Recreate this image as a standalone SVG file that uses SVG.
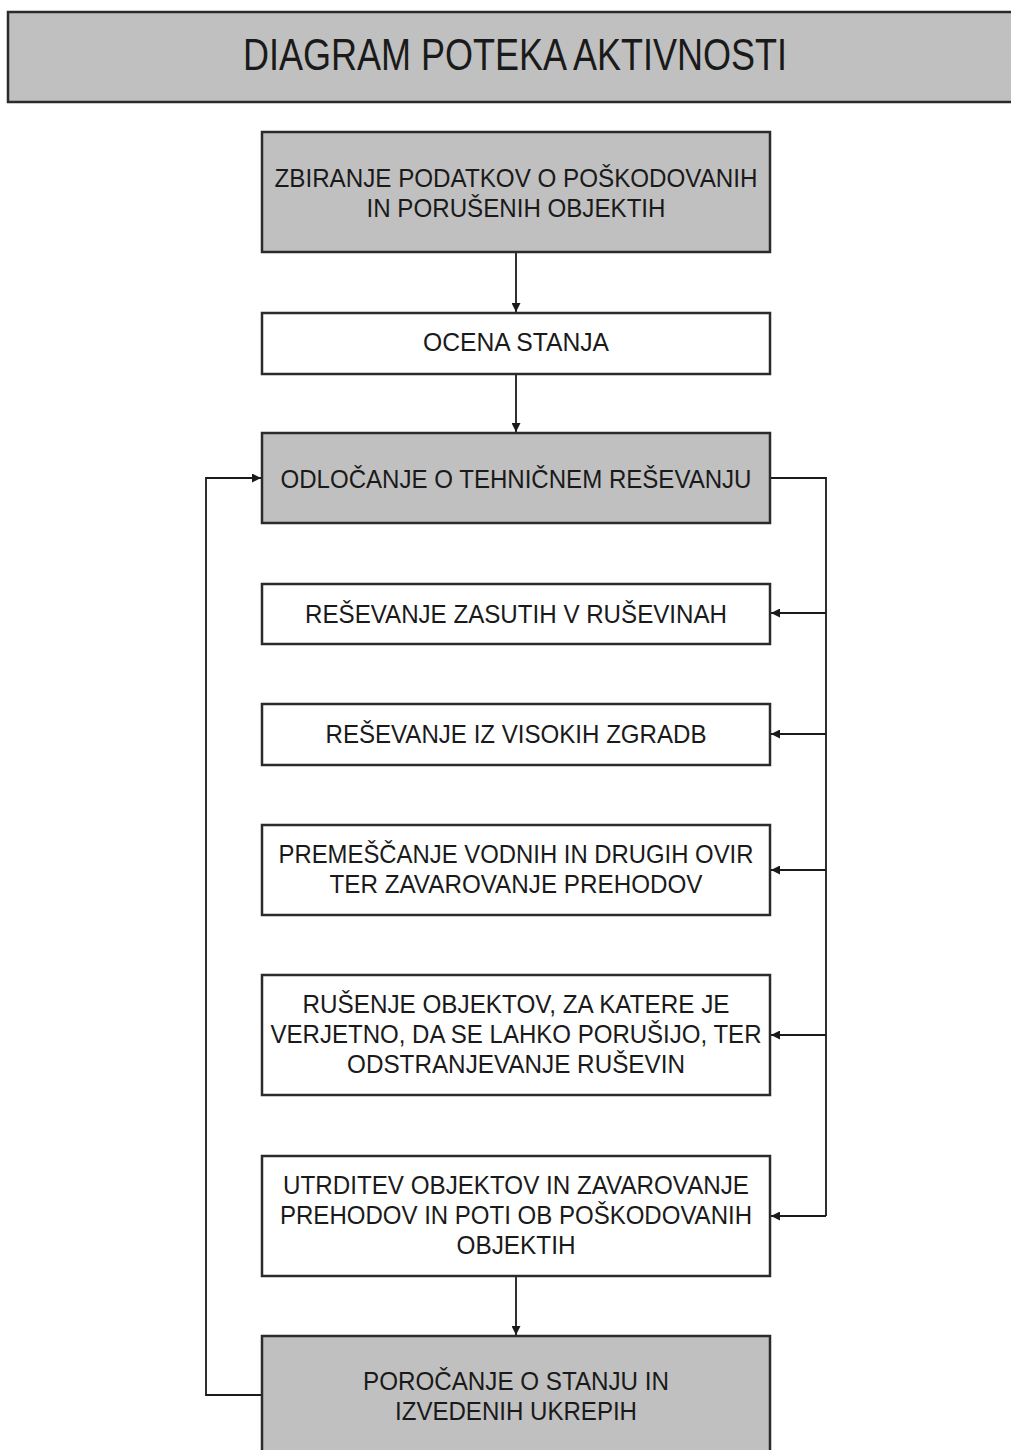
<svg xmlns="http://www.w3.org/2000/svg" width="1011" height="1450" viewBox="0 0 1011 1450">
<style>
.gray{fill:#c0c0c0;stroke:#2b2b2b;stroke-width:2.5}
.white{fill:#ffffff;stroke:#2b2b2b;stroke-width:2.5}
.t{font-family:"Liberation Sans",Arial,sans-serif;font-size:26px;fill:#1a1a1a;text-anchor:middle}
.title{font-family:"Liberation Sans",Arial,sans-serif;font-size:44px;fill:#1a1a1a;text-anchor:middle}
.c{fill:none;stroke:#1a1a1a;stroke-width:1.8}
</style>
<defs>
<marker id="arr" viewBox="0 0 10 10" refX="10" refY="5" markerWidth="9" markerHeight="9" markerUnits="userSpaceOnUse" orient="auto">
<path d="M0,0 L10,5 L0,10 z" fill="#1a1a1a"/>
</marker>
</defs>
<rect width="1011" height="1450" fill="#ffffff"/>
<g id="title">
<rect class="gray" x="8" y="12" width="1010" height="90" stroke-width="3"/>
<text class="title" x="515" y="70" textLength="544" lengthAdjust="spacingAndGlyphs">DIAGRAM POTEKA AKTIVNOSTI</text>
</g>
<g id="connectors">
<line class="c" x1="516" y1="252" x2="516" y2="312" marker-end="url(#arr)"/>
<line class="c" x1="516" y1="374" x2="516" y2="432" marker-end="url(#arr)"/>
<line class="c" x1="516" y1="1276" x2="516" y2="1335" marker-end="url(#arr)"/>
<polyline class="c" points="770,478 826,478 826,1216"/>
<line class="c" x1="826" y1="613" x2="771" y2="613" marker-end="url(#arr)"/>
<line class="c" x1="826" y1="734" x2="771" y2="734" marker-end="url(#arr)"/>
<line class="c" x1="826" y1="870" x2="771" y2="870" marker-end="url(#arr)"/>
<line class="c" x1="826" y1="1035" x2="771" y2="1035" marker-end="url(#arr)"/>
<line class="c" x1="826" y1="1216" x2="771" y2="1216" marker-end="url(#arr)"/>
<polyline class="c" points="262,1395 206,1395 206,478 261,478" marker-end="url(#arr)"/>
</g>
<g id="n1">
<rect class="gray" x="262" y="132" width="508" height="120"/>
<text class="t" x="516" y="187" textLength="483" lengthAdjust="spacingAndGlyphs">ZBIRANJE PODATKOV O POŠKODOVANIH</text>
<text class="t" x="516" y="217" textLength="299" lengthAdjust="spacingAndGlyphs">IN PORUŠENIH OBJEKTIH</text>
</g>
<g id="n2">
<rect class="white" x="262" y="313" width="508" height="61"/>
<text class="t" x="516" y="351" textLength="186" lengthAdjust="spacingAndGlyphs">OCENA STANJA</text>
</g>
<g id="n3">
<rect class="gray" x="262" y="433" width="508" height="90"/>
<text class="t" x="516" y="488" textLength="471" lengthAdjust="spacingAndGlyphs">ODLOČANJE O TEHNIČNEM REŠEVANJU</text>
</g>
<g id="n4">
<rect class="white" x="262" y="584" width="508" height="60"/>
<text class="t" x="516" y="623" textLength="422" lengthAdjust="spacingAndGlyphs">REŠEVANJE ZASUTIH V RUŠEVINAH</text>
</g>
<g id="n5">
<rect class="white" x="262" y="704" width="508" height="61"/>
<text class="t" x="516" y="743" textLength="381" lengthAdjust="spacingAndGlyphs">REŠEVANJE IZ VISOKIH ZGRADB</text>
</g>
<g id="n6">
<rect class="white" x="262" y="825" width="508" height="90"/>
<text class="t" x="516" y="863" textLength="475" lengthAdjust="spacingAndGlyphs">PREMEŠČANJE VODNIH IN DRUGIH OVIR</text>
<text class="t" x="516" y="893" textLength="373" lengthAdjust="spacingAndGlyphs">TER ZAVAROVANJE PREHODOV</text>
</g>
<g id="n7">
<rect class="white" x="262" y="975" width="508" height="120"/>
<text class="t" x="516" y="1013" textLength="427" lengthAdjust="spacingAndGlyphs">RUŠENJE OBJEKTOV, ZA KATERE JE</text>
<text class="t" x="516" y="1043" textLength="491" lengthAdjust="spacingAndGlyphs">VERJETNO, DA SE LAHKO PORUŠIJO, TER</text>
<text class="t" x="516" y="1073" textLength="338" lengthAdjust="spacingAndGlyphs">ODSTRANJEVANJE RUŠEVIN</text>
</g>
<g id="n8">
<rect class="white" x="262" y="1156" width="508" height="120"/>
<text class="t" x="516" y="1194" textLength="466" lengthAdjust="spacingAndGlyphs">UTRDITEV OBJEKTOV IN ZAVAROVANJE</text>
<text class="t" x="516" y="1224" textLength="472" lengthAdjust="spacingAndGlyphs">PREHODOV IN POTI OB POŠKODOVANIH</text>
<text class="t" x="516" y="1254" textLength="119" lengthAdjust="spacingAndGlyphs">OBJEKTIH</text>
</g>
<g id="n9">
<rect class="gray" x="262" y="1336" width="508" height="130"/>
<text class="t" x="516" y="1390" textLength="306" lengthAdjust="spacingAndGlyphs">POROČANJE O STANJU IN</text>
<text class="t" x="516" y="1420" textLength="242" lengthAdjust="spacingAndGlyphs">IZVEDENIH UKREPIH</text>
</g>
</svg>
